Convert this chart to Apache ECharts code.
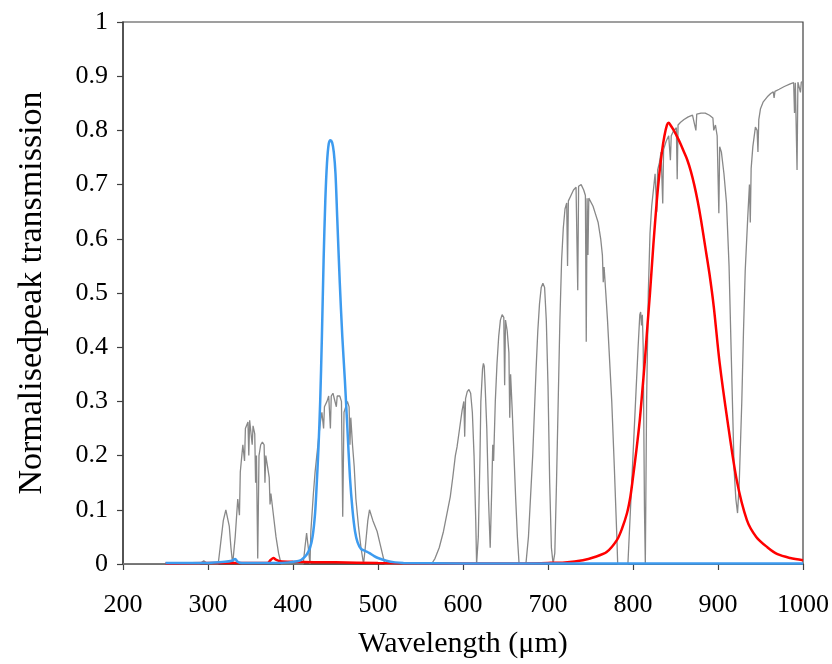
<!DOCTYPE html>
<html>
<head>
<meta charset="utf-8">
<script src="https://cdn.jsdelivr.net/npm/echarts@6/dist/echarts.min.js"></script>
<style>html,body{margin:0;padding:0;background:#fff;}#c{width:832px;height:664px;}</style>
</head>
<body>
<div id="c"></div>
<script>
// Atmospheric transmission (gray)
const grayWl = [200,290,295,300,312,315,318,321,323,325,327,329,332,335,337,338,341,343,344,347,348,349,351,352,353,355,356,357,358.5,360,362,364,366,367,368,370,372,373,374,377,380,383,386,
412,414,416,418,420,421,424,426,428,430,432,434,436,437,440,442,444,445,447,449,451,452,455,457,458.5,460,462,464,466,467,468,470,472,474,477,480,483,485,488,490,492,494,496,499,502,505,508,
563,567,572,577,582,585,588,591,593,596,599,601,602,603,605,607,609,611,613,615,616,618,620,621,623,624,625,626,628,630,632,634,635,636,638,640,642,644,646,648,649,650,652,654,655,656,658,660,662,664,666,
674,677,680,682,684,686,688,690,692,694,696,698,700,702,704,706,708,710,712,714,716,718,720,722,723,724,727,730,733,735,736,739,742,744,745,746,747,748,750,753,756,759,762,764,765,766,768,770,773,775,778,781,782,
794,797,800,803,806,808,809,810,811,812,813.5,814.5,816,818,820,822,824,826,828,829,831,833,835,836,839,842,844,845,848,851,852,853,856,860,865,870,874,875,880,885,890,894,895,897,899,901,902,904,907,910,913,916,919,921,923,925,928,930,932,935,937,938,939,941,944,946,947,948,950,953,958,962,965,966,967,972,978,985,989,990,991,993,994,996,997,998,1000];
const grayT = [0,0,0.006,0,0,0.04,0.08,0.10,0.10,0.07,0.03,0,0.05,0.12,0.09,0.17,0.22,0.19,0.25,0.262,0.2,0.265,0.262,0.22,0.255,0.24,0.15,0.2,0.01,0.2,0.22,0.225,0.22,0.15,0.2,0.18,0.16,0.11,0.13,0.09,0.05,0.02,0,
0,0.03,0.057,0.03,0,0.06,0.13,0.17,0.2,0.23,0.26,0.28,0.25,0.29,0.30,0.31,0.25,0.31,0.315,0.315,0.29,0.31,0.31,0.3,0.087,0.28,0.29,0.3,0.29,0.22,0.27,0.22,0.18,0.12,0.07,0.03,0,0.03,0.08,0.1,0.103,0.08,0.08,0.06,0.04,0.02,0,
0,0.01,0.03,0.06,0.1,0.124,0.16,0.2,0.216,0.25,0.284,0.3,0.235,0.305,0.318,0.322,0.315,0.28,0.2,0.08,0,0.05,0.2,0.3,0.36,0.37,0.365,0.33,0.25,0.12,0.03,0.15,0.22,0.19,0.3,0.37,0.42,0.45,0.46,0.455,0.33,0.45,0.43,0.39,0.27,0.35,0.28,0.2,0.12,0.05,0,
0,0.05,0.14,0.2,0.28,0.36,0.43,0.48,0.51,0.518,0.51,0.45,0.33,0.15,0.03,0,0.02,0.15,0.3,0.45,0.56,0.62,0.655,0.666,0.55,0.67,0.68,0.69,0.695,0.505,0.697,0.70,0.69,0.68,0.41,0.675,0.57,0.675,0.672,0.66,0.645,0.63,0.6,0.57,0.52,0.548,0.5,0.45,0.36,0.3,0.18,0.05,0,
0,0.1,0.2,0.3,0.4,0.46,0.465,0.44,0.46,0.4,0.1,0,0.3,0.5,0.61,0.66,0.69,0.72,0.65,0.727,0.74,0.76,0.665,0.765,0.78,0.79,0.745,0.79,0.8,0.805,0.71,0.81,0.815,0.82,0.825,0.828,0.80,0.83,0.832,0.832,0.828,0.823,0.80,0.81,0.79,0.647,0.77,0.76,0.72,0.666,0.55,0.36,0.173,0.12,0.094,0.15,0.3,0.43,0.54,0.64,0.7,0.63,0.73,0.77,0.806,0.8,0.76,0.82,0.84,0.852,0.862,0.868,0.871,0.86,0.872,0.876,0.881,0.886,0.888,0.832,0.888,0.727,0.889,0.889,0.87,0.889,0.89];

// Blue filter
const blueWl = [250,300,320,328,332,335,340,380,395,405,410,416,420,423,426,428,430,432,434,436,438,440,442,444,446,448,450,452,455,458,461,464,467,470,473,476,480,485,490,495,500,510,520,530,600,1000];
const blueT = [0.002,0.002,0.004,0.006,0.009,0.004,0.002,0.002,0.003,0.005,0.008,0.017,0.03,0.05,0.094,0.15,0.216,0.3,0.42,0.56,0.67,0.74,0.775,0.782,0.778,0.76,0.72,0.64,0.52,0.42,0.34,0.25,0.16,0.1,0.06,0.04,0.028,0.024,0.02,0.015,0.011,0.006,0.003,0.002,0.001,0.001];

// Red filter
const redWl = [250,300,370,374,377,380,385,400,450,500,600,650,700,720,741,755,769,781,787,793,797,800,804,808,811,814,817,820,824,828,831,834,837,840,842,844,848,852,856,860,864,868,872,876,880,885,890,895,902,911,922,934,945,958,970,985,1000];
const redT = [0.001,0.002,0.002,0.008,0.011,0.008,0.005,0.004,0.003,0.002,0.001,0.001,0.002,0.003,0.007,0.013,0.022,0.044,0.065,0.094,0.125,0.16,0.21,0.266,0.32,0.376,0.44,0.5,0.59,0.67,0.72,0.76,0.79,0.81,0.814,0.81,0.8,0.788,0.775,0.76,0.745,0.725,0.7,0.67,0.635,0.585,0.535,0.475,0.37,0.266,0.155,0.081,0.05,0.031,0.018,0.011,0.007];

const xTicks = [200,1000,100];
const yTicks = [0,1,0.1];

function pairs(a,b){return a.map((x,i)=>[x,b[i]]);}

const chart = echarts.init(document.getElementById('c'), null, {renderer:'canvas'});
const font = 'Liberation Serif';
chart.setOption({
  animation:false,
  backgroundColor:'#fff',
  grid:{left:123,right:29,top:22,bottom:100,show:true,borderColor:'#404040',borderWidth:1.2,backgroundColor:'transparent'},
  xAxis:{type:'value',min:xTicks[0],max:xTicks[1],interval:xTicks[2],
    name:'Wavelength (\u03bcm)',nameLocation:'middle',nameGap:65,
    nameTextStyle:{fontFamily:font,fontSize:30,color:'#000'},
    axisLine:{lineStyle:{color:'#404040',width:1.5}},
    axisTick:{length:6,lineStyle:{color:'#404040',width:1.2}},
    axisLabel:{margin:28,fontFamily:font,fontSize:26,color:'#000',formatter:v=>String(v)},
    splitLine:{show:false}},
  yAxis:{type:'value',min:yTicks[0],max:yTicks[1],interval:yTicks[2],
    name:'Normalisedpeak transmission',nameLocation:'middle',nameGap:74,
    nameTextStyle:{fontFamily:font,fontSize:34,color:'#000'},
    axisLine:{show:true,lineStyle:{color:'#404040',width:1.5}},
    axisTick:{show:true,length:6,lineStyle:{color:'#404040',width:1.2}},
    axisLabel:{margin:15,fontFamily:font,fontSize:26,color:'#000',formatter:v=>String(Math.round(v*10)/10)},
    splitLine:{show:false}},
  series:[
    {type:'line',data:pairs(grayWl,grayT),showSymbol:false,lineStyle:{color:'#888888',width:1.3},z:1},
    {type:'line',data:pairs(redWl,redT),showSymbol:false,smooth:0.3,lineStyle:{color:'#ff0000',width:2.5},z:2},
    {type:'line',data:pairs(blueWl,blueT),showSymbol:false,smooth:0.3,lineStyle:{color:'#3d9bef',width:2.5},z:3}
  ]
});
</script>
</body>
</html>
